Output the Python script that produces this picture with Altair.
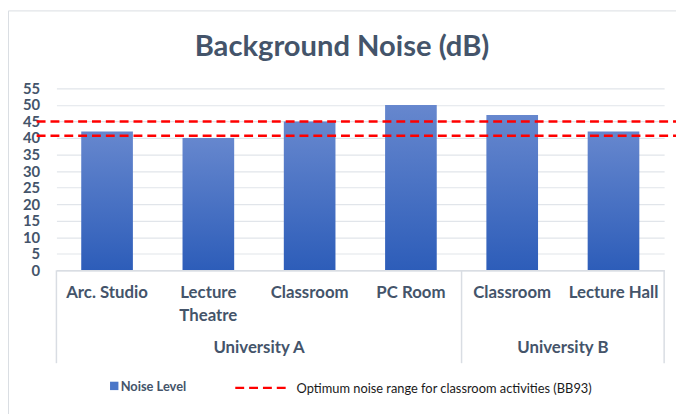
import altair as alt
import pandas as pd

# ---- data ----
groups = ["University A", "University A", "University A", "University A", "University B", "University B"]
categories = ["Arc. Studio", "Lecture\nTheatre", "Classroom", "PC Room", "Classroom", "Lecture Hall"]
noise_levels = [42, 40, 45, 50, 47, 42]
optimum_range = [45, 40.7]
title_text = "Background Noise (dB)"
series_label = "Noise Level"
range_label = "Optimum noise range for classroom activities (BB93)"
y_ticks = list(range(0, 56, 5))

keys = [g[-1] + "|" + c for g, c in zip(groups, categories)]
bars_df = pd.DataFrame({"key": keys, "value": noise_levels, "group": groups})

# group structure derived from data
group_names = list(dict.fromkeys(groups))
group_first = [keys[groups.index(g)] for g in group_names]
group_last = [keys[len(groups) - 1 - groups[::-1].index(g)] for g in group_names]
group_mid = []
for g in group_names:
    idx = [i for i, gg in enumerate(groups) if gg == g]
    group_mid.append(keys[idx[len(idx) // 2]])

TXT = "#44546a"
GRID = "#e1e5ea"
LINE = "#d9dde3"
FONT = "Lato"

xscale = alt.Scale(domain=keys, paddingInner=0, paddingOuter=0)
yscale = alt.Scale(domain=[0, 55], nice=False, zero=True)
yaxis = alt.Axis(title=None, values=y_ticks, ticks=False, domain=False,
                 grid=True, gridColor=GRID, gridWidth=1.2,
                 labelOverlap=False, labelFlush=False,
                 labelFont=FONT, labelFontSize=15, labelFontWeight="bold",
                 labelColor=TXT, labelPadding=17)

grad = alt.LinearGradient(
    gradient="linear",
    stops=[alt.GradientStop(color="#6687ce", offset=0),
           alt.GradientStop(color="#2d5db9", offset=1)],
    x1=1, x2=1, y1=0, y2=1,
)

bars = alt.Chart(bars_df).mark_bar(width=alt.RelativeBandSize(0.51), color=grad).encode(
    x=alt.X("key:N", scale=xscale, sort=keys,
            axis=alt.Axis(title=None, labelAngle=0, ticks=False, grid=False,
                          domain=True, domainColor=LINE, domainWidth=1.5,
                          labelFont=FONT, labelFontSize=17, labelFontWeight="bold",
                          labelColor=TXT, labelPadding=15, labelLineHeight=23,
                          labelOverlap=False,
                          labelExpr="split(split(datum.value, '|')[1], '\\n')",
                          zindex=1)),
    y=alt.Y("value:Q", scale=yscale, axis=yaxis),
)

# dashed optimum lines
range_df = pd.DataFrame({"level": optimum_range})
rules = alt.Chart(range_df).mark_rule(color="#ff0000", strokeWidth=2.5, strokeDash=[9, 5]).encode(
    y=alt.Y("level:Q", scale=yscale, axis=yaxis),
    x=alt.value(-20),
    x2=alt.value(640),
)

# group separators
sep_start = alt.Chart(pd.DataFrame({"key": group_first})).mark_rule(color=LINE, strokeWidth=1.5).encode(
    x=alt.X("key:N", scale=xscale, sort=keys, bandPosition=0),
    y=alt.value(184),
    y2=alt.value(278),
)
sep_end = alt.Chart(pd.DataFrame({"key": group_last[-1:]})).mark_rule(color=LINE, strokeWidth=1.5).encode(
    x=alt.X("key:N", scale=xscale, sort=keys, bandPosition=1),
    y=alt.value(184),
    y2=alt.value(278),
)

# group labels
glabels = alt.Chart(pd.DataFrame({"key": group_mid, "name": group_names})).mark_text(
    font=FONT, fontSize=17, fontWeight="bold", color=TXT, align="center", baseline="alphabetic"
).encode(
    x=alt.X("key:N", scale=xscale, sort=keys, bandPosition=0),
    y=alt.value(268),
    text="name:N",
)

# title
title = alt.Chart(pd.DataFrame({"t": [title_text]})).mark_text(
    font=FONT, fontSize=29.5, fontWeight="bold", color=TXT, align="center", baseline="alphabetic"
).encode(x=alt.value(289), y=alt.value(-33), text="t:N")

# legend
leg_sq = alt.Chart(pd.DataFrame({"s": [series_label]})).mark_point(
    shape="square", filled=True, size=72, color="#4a76c8", opacity=1
).encode(x=alt.value(58.5), y=alt.value(301))
leg_sq_txt = alt.Chart(pd.DataFrame({"s": [series_label]})).mark_text(
    font=FONT, fontSize=13, fontWeight="bold", color=TXT, align="left", baseline="alphabetic"
).encode(x=alt.value(65), y=alt.value(306), text="s:N")
leg_dash = alt.Chart(pd.DataFrame({"s": [range_label]})).mark_rule(
    color="#ff0000", strokeWidth=2.5, strokeDash=[9, 5]
).encode(x=alt.value(181), x2=alt.value(236), y=alt.value(303))
leg_dash_txt = alt.Chart(pd.DataFrame({"s": [range_label]})).mark_text(
    font=FONT, fontSize=13, color="#1a1a1a", align="left", baseline="alphabetic"
).encode(x=alt.value(243), y=alt.value(308), text="s:N")

# outer border
border = alt.Chart(pd.DataFrame({"b": [0]})).mark_rect(
    fillOpacity=0, stroke=LINE, strokeWidth=1
).encode(x=alt.value(-48.5), y=alt.value(-78.5), x2=alt.value(700), y2=alt.value(400))

chart = alt.layer(
    border, bars, rules, sep_start, sep_end, glabels, title,
    leg_sq, leg_sq_txt, leg_dash, leg_dash_txt
).properties(
    width=615, height=184,
    autosize="none",
    padding={"left": 49, "top": 79, "right": 12, "bottom": 143},
    background="white",
).configure_view(stroke=None)

chart.save("out.html", embed_options={"renderer": "svg", "actions": False})
